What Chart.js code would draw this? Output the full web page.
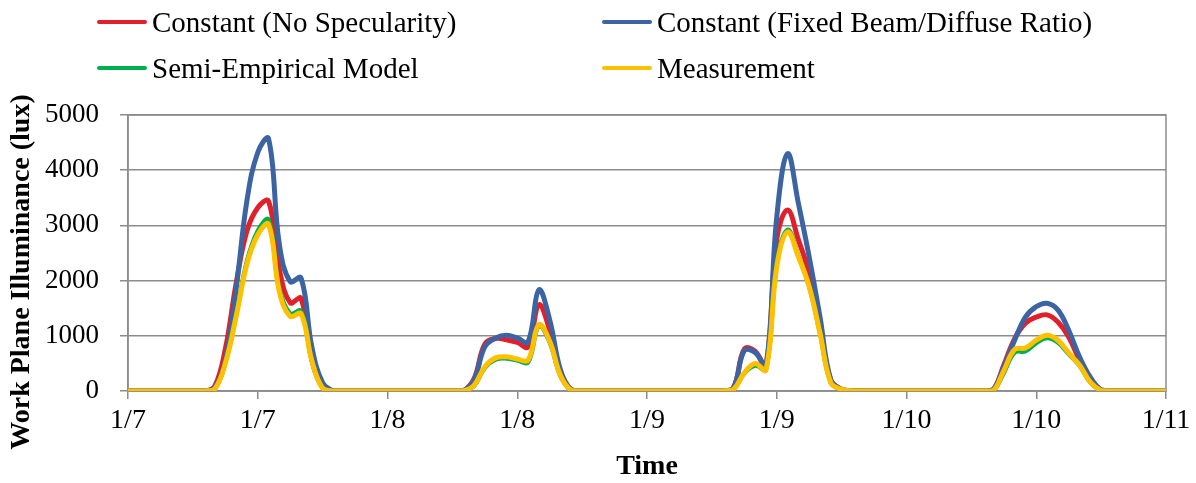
<!DOCTYPE html>
<html>
<head>
<meta charset="utf-8">
<script src="https://cdn.jsdelivr.net/npm/chart.js@4.4.1/dist/chart.umd.min.js"></script>
<style>
  html, body { margin: 0; padding: 0; background: #fff; }
  #wrap { position: relative; width: 1196px; height: 483px; overflow: hidden; }
  canvas { position: absolute; left: 0; top: 0; }
  .lg { position: absolute; height: 36px; display: flex; align-items: center;
        font-family: 'Liberation Serif', 'Times New Roman', serif; font-size: 29px; color: #000; white-space: nowrap; }
  .lg .ln { display: inline-block; width: 50px; height: 4px; margin-right: 5px; border-radius: 2px; }
</style>
</head>
<body>
<div id="wrap">
  <canvas id="c" width="1196" height="483"></canvas>
  <div id="legend"></div>
</div>
<script>
// ---- data (hourly, hour 0 = 1/7 00:00) ----
const tickLabels = ['1/7', '1/7', '1/8', '1/8', '1/9', '1/9', '1/10', '1/10', '1/11'];
const hours = Array.from({ length: 97 }, (_, i) => i);

const constantNoSpecularity = [
  0,0,0,0,0,0,0,0,
  80,760,1950,2900,3320,3440,2200,1600,1680,570,80,
  0,0,0,0,0,0,0,0,0,0,0,0,0,
  220,850,950,930,880,800,1560,1100,330,20,
  0,0,0,0,0,0,0,0,0,0,0,0,0,0,
  60,760,720,450,2750,3280,2740,2130,1160,200,30,
  0,0,0,0,0,0,0,0,0,0,0,0,0,
  20,470,950,1230,1340,1380,1250,980,560,220,20,
  0,0,0,0,0,0
];
const constantFixedRatio = [
  0,0,0,0,0,0,0,0,
  60,560,1850,3450,4320,4570,2650,1980,2050,800,150,
  0,0,0,0,0,0,0,0,0,0,0,0,0,
  200,800,960,1010,960,890,1830,1290,380,20,
  0,0,0,0,0,0,0,0,0,0,0,0,0,0,
  60,730,700,450,3150,4300,3400,2430,1340,200,30,
  0,0,0,0,0,0,0,0,0,0,0,0,0,
  20,440,920,1340,1530,1590,1470,1100,620,250,20,
  0,0,0,0,0,0
];
const semiEmpirical = [
  0,0,0,0,0,0,0,0,
  30,520,1380,2350,2900,3100,1850,1400,1450,560,50,
  0,0,0,0,0,0,0,0,0,0,0,0,0,
  90,420,570,590,555,520,1180,880,270,10,
  0,0,0,0,0,0,0,0,0,0,0,0,0,0,
  30,320,460,390,2300,2920,2450,1900,1050,150,30,
  0,0,0,0,0,0,0,0,0,0,0,0,0,
  0,330,700,720,870,960,880,670,460,160,10,
  0,0,0,0,0,0
];
const measurement = [
  0,0,0,0,0,0,0,0,
  30,500,1350,2300,2830,3020,1800,1350,1400,550,50,
  0,0,0,0,0,0,0,0,0,0,0,0,0,
  100,440,600,620,580,560,1200,900,280,10,
  0,0,0,0,0,0,0,0,0,0,0,0,0,0,
  30,330,500,380,2250,2880,2430,1890,1050,150,30,
  0,0,0,0,0,0,0,0,0,0,0,0,0,
  0,370,750,780,920,1010,920,690,470,160,10,
  0,0,0,0,0,0
];

const seriesNames = ['Constant (No Specularity)', 'Constant (Fixed Beam/Diffuse Ratio)', 'Semi-Empirical Model', 'Measurement'];
const seriesColors = ['#E2202B', '#3D64A2', '#00B050', '#FFC000'];
const seriesData = [constantNoSpecularity, constantFixedRatio, semiEmpirical, measurement];

const yTitle = 'Work Plane Illuminance (lux)';
const xTitle = 'Time';

const FONT = "'Liberation Serif', 'Times New Roman', serif";
const GRID = '#8c8c8c';

// ---- HTML legend (two columns) ----
const legendPos = [[97, 4], [602, 4], [97, 50], [602, 50]];
const legendEl = document.getElementById('legend');
seriesNames.forEach((n, i) => {
  const d = document.createElement('div');
  d.className = 'lg';
  d.style.left = legendPos[i][0] + 'px';
  d.style.top = legendPos[i][1] + 'px';
  const ln = document.createElement('span');
  ln.className = 'ln';
  ln.style.background = seriesColors[i];
  const t = document.createElement('span');
  t.textContent = n;
  d.appendChild(ln); d.appendChild(t);
  legendEl.appendChild(d);
});

const framePlugin = {
  id: 'frame',
  beforeDatasetsDraw(chart) {
    const a = chart.chartArea, ctx = chart.ctx;
    ctx.save();
    ctx.strokeStyle = GRID;
    ctx.lineWidth = 1.5;
    ctx.strokeRect(a.left, a.top, a.right - a.left, a.bottom - a.top);
    ctx.restore();
  },
  afterDraw(chart) {
    const ctx = chart.ctx;
    ctx.save();
    ctx.fillStyle = '#000';
    ctx.font = 'bold 28px ' + FONT;
    ctx.textAlign = 'center';
    ctx.textBaseline = 'middle';
    ctx.fillText(xTitle, 647, 467);
    ctx.translate(22, 272);
    ctx.rotate(-Math.PI / 2);
    ctx.fillText(yTitle, 0, 0);
    ctx.restore();
  }
};

new Chart(document.getElementById('c'), {
  type: 'line',
  data: {
    labels: hours,
    datasets: seriesNames.map((n, i) => ({
      label: n,
      data: seriesData[i],
      borderColor: seriesColors[i],
      backgroundColor: seriesColors[i],
      borderWidth: i === 2 ? 4.5 : 5,
      pointRadius: 0,
      fill: false,
      tension: 0.4,
      order: 4 - i
    }))
  },
  options: {
    responsive: false,
    animation: false,
    devicePixelRatio: 1,
    layout: { padding: { left: 0, right: 30, top: 115, bottom: 0 } },
    plugins: { legend: { display: false }, tooltip: { enabled: false } },
    scales: {
      x: {
        type: 'linear',
        min: 0, max: 96,
        afterFit(s) { s.height = 92; },
        grid: { drawOnChartArea: false, drawTicks: true, tickLength: 8, color: GRID, lineWidth: 1.5 },
        border: { color: GRID, width: 1.5 },
        ticks: {
          stepSize: 12,
          autoSkip: false,
          maxRotation: 0,
          padding: 5,
          color: '#000',
          font: { family: FONT, size: 28 },
          callback: (v) => tickLabels[Math.round(v / 12)]
        }
      },
      y: {
        min: 0, max: 5000,
        afterFit(s) { s.width = 128; },
        grid: { color: GRID, lineWidth: 1.5, tickLength: 8 },
        border: { color: GRID, width: 1.5 },
        ticks: {
          stepSize: 1000,
          padding: 21,
          color: '#000',
          font: { family: FONT, size: 27 },
          callback: (v) => String(v)
        }
      }
    }
  },
  plugins: [framePlugin]
});
</script>
</body>
</html>
